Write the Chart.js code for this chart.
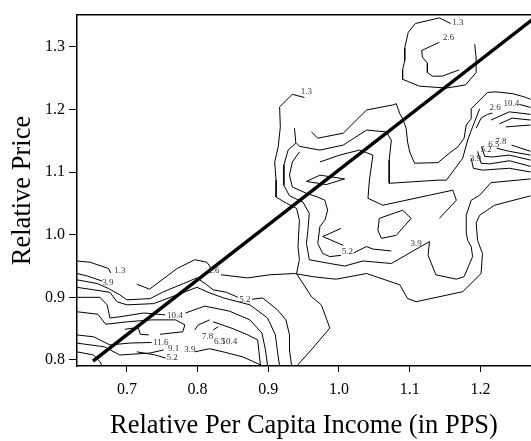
<!DOCTYPE html>
<html>
<head>
<meta charset="utf-8">
<script src="https://cdn.jsdelivr.net/npm/chart.js@4"></script>
<style>
  html, body { margin: 0; padding: 0; background: #fff; overflow: hidden; }
</style>
</head>
<body>
<canvas id="chart" width="531" height="441"></canvas>
<script>
// axis ticks
var xTicks = [0.7, 0.8, 0.9, 1.0, 1.1, 1.2];
var yTicks = [0.8, 0.9, 1.0, 1.1, 1.2, 1.3];

// thick regression line
var fitLine = [[0.652, 0.798], [1.28, 1.349]];

// contour lines (relative income, relative price)
var topOuter = [[1.158,1.337],[1.142,1.346],[1.108,1.337],[1.098,1.323],[1.093,1.298],[1.093,1.278],[1.090,1.263],[1.090,1.248],[1.114,1.237],[1.152,1.234],[1.179,1.239],[1.194,1.259],[1.194,1.282],[1.192,1.304]];
var topInner = [[1.142,1.307],[1.117,1.294],[1.118,1.283],[1.125,1.274],[1.125,1.259],[1.132,1.253],[1.146,1.253],[1.170,1.263]];

var midA = [[0.951,1.219],[0.934,1.224],[0.916,1.204],[0.917,1.172],[0.914,1.140],[0.909,1.116],[0.911,1.087],[0.911,1.060],[0.926,1.050],[0.940,1.042],[0.944,1.023],[0.942,0.981],[0.944,0.960],[0.940,0.938],[0.961,0.901],[0.975,0.888],[0.987,0.851],[0.963,0.819],[0.940,0.790]];
var midB = [[0.937,1.170],[0.939,1.146],[0.928,1.135],[0.922,1.111],[0.922,1.079],[0.930,1.062],[0.949,1.052],[0.958,1.034],[0.956,1.007],[0.954,0.986],[0.958,0.960],[0.987,0.954],[1.008,0.950],[1.034,0.958],[1.074,0.954],[1.128,0.989],[1.126,0.967],[1.137,0.936],[1.166,0.929],[1.177,0.933],[1.189,0.965],[1.187,0.981],[1.182,0.991],[1.180,1.003],[1.180,1.031],[1.187,1.055],[1.199,1.063],[1.215,1.083],[1.271,1.089]];
var midC = [[0.961,1.164],[0.970,1.154],[1.006,1.162],[1.039,1.199],[1.076,1.207],[1.081,1.209],[1.086,1.193],[1.090,1.185],[1.095,1.170],[1.097,1.148],[1.100,1.132],[1.107,1.114],[1.140,1.115],[1.156,1.130],[1.168,1.140],[1.177,1.154],[1.180,1.175],[1.187,1.185],[1.187,1.201],[1.210,1.227],[1.222,1.228],[1.246,1.225],[1.262,1.220],[1.271,1.216]];
var midD = [[0.940,1.146],[0.944,1.141],[0.973,1.135],[1.006,1.143],[1.039,1.167],[1.067,1.164],[1.074,1.151],[1.071,1.119],[1.071,1.082],[1.140,1.087],[1.152,1.087],[1.175,1.122],[1.182,1.151],[1.189,1.172],[1.199,1.201]];
var midE = [[0.944,1.132],[0.934,1.116],[0.930,1.095],[0.934,1.076],[0.954,1.066],[0.970,1.060],[0.980,1.055],[0.984,1.039],[0.980,1.023],[0.973,1.013],[0.970,0.986],[0.977,0.970],[0.987,0.965],[1.003,0.967]];
var midEb = [[1.021,0.971],[1.039,0.981],[1.048,0.977],[1.074,0.974]];
var midF = [[1.003,1.010],[0.977,0.997],[1.006,0.983]];
var midG = [[0.973,1.116],[1.001,1.127],[1.029,1.135],[1.048,1.127],[1.043,1.087],[1.041,1.058],[1.062,1.047],[1.095,1.055],[1.128,1.063],[1.161,1.071],[1.166,1.055],[1.142,1.026]];
var midLoop = [[1.057,1.026],[1.055,1.007],[1.060,0.994],[1.081,0.999],[1.102,1.026],[1.090,1.039],[1.057,1.026]];
var midDiamond = [[0.954,1.085],[0.973,1.095],[1.008,1.089],[0.982,1.080],[0.954,1.085]];

var rightU1 = [[1.194,1.170],[1.201,1.186],[1.210,1.192],[1.217,1.194]];
var rightU1b = [[1.255,1.208],[1.271,1.203]];
var rightU2 = [[1.215,1.183],[1.241,1.196],[1.271,1.192]];
var rightU3 = [[1.227,1.177],[1.245,1.186],[1.271,1.183]];
var rightU4 = [[1.236,1.172],[1.271,1.175]];
var rightR1 = [[1.244,1.143],[1.271,1.133]];
var rightR2 = [[1.223,1.138],[1.241,1.133],[1.271,1.127]];
var rightR3 = [[1.202,1.140],[1.206,1.125],[1.217,1.124],[1.241,1.127],[1.271,1.119]];
var rightR4 = [[1.196,1.133],[1.201,1.114],[1.213,1.113],[1.241,1.118],[1.271,1.109]];
var rightR5 = [[1.187,1.122],[1.190,1.106],[1.203,1.103],[1.241,1.106],[1.271,1.100]];

var lowA = [[0.629,0.958],[0.648,0.956],[0.674,0.946],[0.677,0.939]];
var lowB = [[0.714,0.921],[0.732,0.913],[0.771,0.946],[0.796,0.960],[0.813,0.956],[0.819,0.947]];
var lowBb = [[0.833,0.936],[0.871,0.931],[0.902,0.936],[0.937,0.938],[0.963,0.933],[0.987,0.930],[0.996,0.929],[1.039,0.938],[1.086,0.920],[1.097,0.898],[1.109,0.893],[1.175,0.909],[1.201,0.938],[1.203,0.970],[1.196,0.991],[1.194,1.019],[1.199,1.031],[1.220,1.047],[1.271,1.062]];
var lowC = [[0.629,0.938],[0.644,0.934],[0.665,0.926]];
var lowD = [[0.629,0.928],[0.658,0.922],[0.674,0.914],[0.690,0.904],[0.700,0.896],[0.733,0.898],[0.752,0.909],[0.780,0.922],[0.799,0.931],[0.813,0.920],[0.822,0.912],[0.841,0.908],[0.857,0.900]];
var lowDb = [[0.877,0.897],[0.892,0.899],[0.913,0.880],[0.925,0.864],[0.930,0.840],[0.930,0.816],[0.933,0.790]];
var lowE = [[0.629,0.916],[0.653,0.912],[0.676,0.908],[0.686,0.893],[0.700,0.888],[0.738,0.890],[0.771,0.904],[0.799,0.916],[0.817,0.907],[0.837,0.899],[0.874,0.888],[0.899,0.867],[0.910,0.840],[0.913,0.813],[0.916,0.790]];
var lowF = [[0.629,0.900],[0.662,0.900],[0.672,0.888],[0.676,0.867],[0.690,0.869],[0.724,0.875],[0.754,0.872]];
var lowFb = [[0.783,0.875],[0.810,0.886],[0.845,0.878],[0.874,0.864],[0.891,0.843],[0.896,0.816],[0.899,0.790]];
var lowG = [[0.629,0.877],[0.659,0.873],[0.670,0.857],[0.701,0.861],[0.735,0.864],[0.769,0.864],[0.782,0.856],[0.779,0.845],[0.747,0.841]];
var lowInner = [[0.697,0.849],[0.716,0.852],[0.719,0.841],[0.731,0.840]];
var lowH = [[0.629,0.840],[0.653,0.837],[0.676,0.824],[0.704,0.827],[0.735,0.828]];
var lowI = [[0.629,0.827],[0.668,0.821],[0.690,0.808],[0.732,0.811],[0.752,0.816]];
var lowJ = [[0.629,0.813],[0.653,0.808],[0.662,0.797],[0.665,0.790]];
var lowK = [[0.714,0.813],[0.740,0.808],[0.755,0.803]];
var lowL = [[0.796,0.813],[0.817,0.818],[0.836,0.813],[0.864,0.805],[0.891,0.791]];
var lowM = [[0.822,0.861],[0.850,0.850],[0.871,0.840],[0.885,0.832],[0.889,0.790]];
var lowN = [[0.796,0.848],[0.801,0.856],[0.817,0.864]];
var lowO = [[0.822,0.848],[0.829,0.853]];

// contour labels: text, x, y
var labelText = ["1.3","2.6","1.3","2.6","10.4","7.8","6.5","5.2","3.9","5.2","3.9","1.3","3.9","2.6","5.2","10.4","11.6","9.1","3.9","5.2","7.8","6.5","10.4"];
var labelX = [1.168,1.155,0.954,1.221,1.244,1.229,1.219,1.208,1.193,1.012,1.109,0.690,0.673,0.823,0.867,0.768,0.748,0.766,0.789,0.764,0.814,0.831,0.845];
var labelY = [1.339,1.315,1.229,1.202,1.209,1.149,1.143,1.135,1.122,0.973,0.985,0.942,0.923,0.942,0.897,0.870,0.827,0.818,0.816,0.803,0.837,0.830,0.830];

var contours = [topOuter, topInner, midA, midB, midC, midD, midE, midEb, midF, midG, midLoop, midDiamond,
  rightU1, rightU1b, rightU2, rightU3, rightU4, rightR1, rightR2, rightR3, rightR4, rightR5,
  lowA, lowB, lowBb, lowC, lowD, lowDb, lowE, lowF, lowFb, lowG, lowInner, lowH, lowI, lowJ, lowK, lowL, lowM, lowN, lowO];

function toPts(arr) {
  return arr.map(function (p) { return { x: p[0], y: p[1] }; });
}

var datasets = contours.map(function (c) {
  return { data: toPts(c), showLine: true, borderColor: "#000", borderWidth: 1, pointRadius: 0, tension: 0 };
});
datasets.push({ data: toPts(fitLine), showLine: true, borderColor: "#000", borderWidth: 3.5, pointRadius: 0 });

var contourLabels = {
  id: "contourLabels",
  afterDatasetsDraw: function (chart) {
    var ctx = chart.ctx, a = chart.chartArea;
    ctx.save();
    ctx.beginPath();
    ctx.rect(a.left, a.top, a.right - a.left, a.bottom - a.top);
    ctx.clip();
    ctx.font = "9px 'Liberation Serif'";
    ctx.fillStyle = "#333";
    ctx.textAlign = "center";
    ctx.textBaseline = "middle";
    for (var i = 0; i < labelText.length; i++) {
      ctx.fillText(labelText[i], chart.scales.x.getPixelForValue(labelX[i]), chart.scales.y.getPixelForValue(labelY[i]));
    }
    ctx.restore();
  }
};

var serif = "'Liberation Serif', 'Times New Roman', serif";

new Chart(document.getElementById("chart"), {
  type: "scatter",
  data: { datasets: datasets },
  plugins: [contourLabels],
  options: {
    responsive: false,
    animation: false,
    layout: { padding: { top: 15, right: 0, left: 0, bottom: 0 } },
    plugins: { legend: { display: false }, tooltip: { enabled: false } },
    scales: {
      x: {
        type: "linear", position: "bottom", min: 0.6294, max: 1.2716,
        afterBuildTicks: function (s) { s.ticks = xTicks.map(function (v) { return { value: v }; }); },
        afterFit: function (s) { s.height = 75; },
        ticks: { color: "#000", font: { family: serif, size: 16 }, padding: 8, callback: function (v) { return v.toFixed(1); } },
        grid: { drawOnChartArea: false, drawTicks: true, tickLength: 6, color: "#000", lineWidth: 1 },
        border: { display: true, color: "#000", width: 1.5 },
        title: { display: true, text: "Relative Per Capita Income (in PPS)", color: "#000", font: { family: serif, size: 26.5 }, padding: { top: 0, bottom: -1 } }
      },
      xTop: {
        type: "linear", position: "top", min: 0.6294, max: 1.2716,
        afterFit: function (s) { s.height = 0; },
        ticks: { display: false },
        grid: { drawOnChartArea: false, drawTicks: false },
        border: { display: true, color: "#000", width: 1.5 }
      },
      y: {
        type: "linear", position: "left", min: 0.7904, max: 1.3506,
        afterBuildTicks: function (s) { s.ticks = yTicks.map(function (v) { return { value: v }; }); },
        afterFit: function (s) { s.width = 77; },
        ticks: { color: "#000", font: { family: serif, size: 16 }, padding: 4, callback: function (v) { return v.toFixed(1); } },
        grid: { drawOnChartArea: false, drawTicks: true, tickLength: 8, color: "#000", lineWidth: 1 },
        border: { display: true, color: "#000", width: 1.5 },
        title: { display: true, text: "Relative Price", color: "#000", font: { family: serif, size: 26.5 }, padding: { top: 7, bottom: 0 } }
      }
    }
  }
});
</script>
</body>
</html>
